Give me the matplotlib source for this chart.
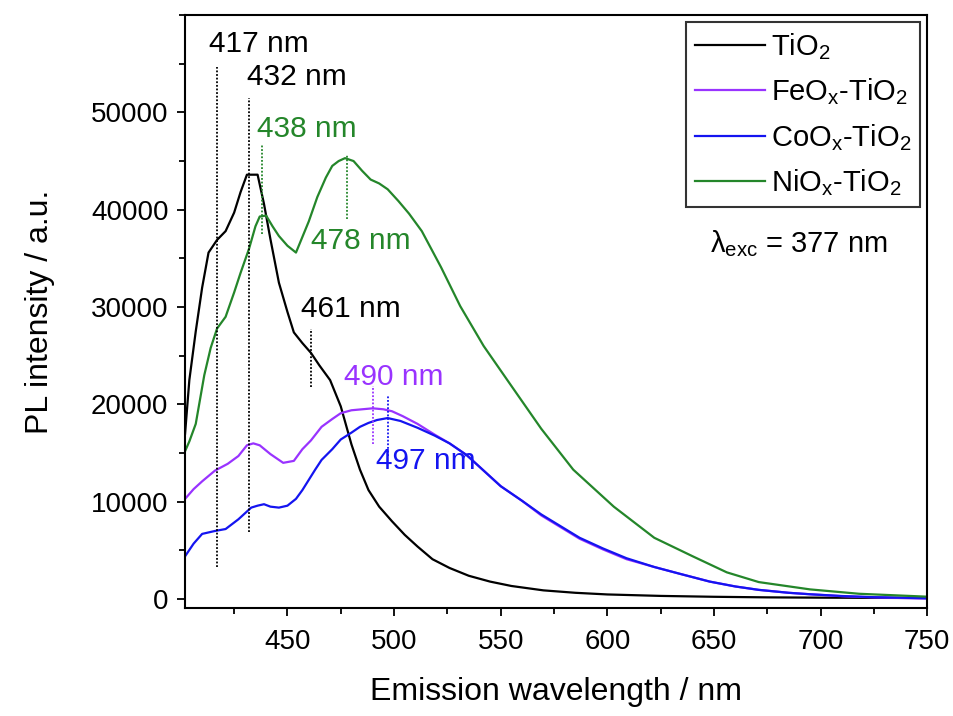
import matplotlib
matplotlib.use("Agg")
import matplotlib.pyplot as plt
from matplotlib.ticker import MultipleLocator

plt.rcParams['font.family'] = ['Liberation Sans', 'DejaVu Sans']
plt.rcParams['mathtext.fontset'] = 'custom'
plt.rcParams['mathtext.rm'] = 'Liberation Sans'

# PL spectra
wl_tio2 = [402, 404, 407, 410, 413, 417, 421, 425, 428, 431, 433, 436, 439, 442, 446, 450, 453, 457,
           461, 465, 470, 475, 480, 484, 488, 493, 499, 505, 511, 518, 526, 535, 545, 555, 570, 585,
           600, 625, 650, 675, 700, 725, 750]
pl_tio2 = [17000, 22500, 27500, 32000, 35600, 36900, 37800, 39700, 41800, 43600, 43600, 43600, 40600,
           37000, 32500, 29500, 27400, 26300, 25300, 24000, 22500, 19800, 15900, 13300, 11200, 9500,
           8000, 6600, 5400, 4100, 3200, 2400, 1800, 1350, 900, 650, 480, 330, 240, 180, 150, 130, 110]

wl_fe = [402, 406, 410, 416, 422, 427, 431, 434, 437, 442, 448, 453, 457, 461, 466, 471, 475, 480, 485,
         490, 495, 499, 504, 511, 519, 526, 534, 542, 550, 560, 569, 578, 587, 598, 609, 622, 634, 648,
         660, 671, 685, 695, 710, 725, 750]
pl_fe = [10300, 11300, 12100, 13200, 13900, 14700, 15800, 16000, 15800, 14900, 14000, 14200, 15400,
         16300, 17700, 18500, 19100, 19400, 19500, 19600, 19500, 19300, 18800, 18000, 16900, 16000,
         14800, 13200, 11600, 10100, 8600, 7400, 6200, 5100, 4100, 3300, 2600, 1800, 1300, 950, 650,
         500, 300, 180, 60]

wl_co = [402, 406, 410, 416, 421, 427, 433, 436, 439, 442, 446, 450, 454, 457, 463, 466, 471, 475, 480,
         484, 488, 492, 497, 503, 511, 519, 526, 534, 542, 550, 560, 569, 578, 587, 598, 609, 622, 634,
         648, 660, 671, 685, 695, 710, 725, 750]
pl_co = [4400, 5700, 6700, 7000, 7200, 8200, 9400, 9600, 9750, 9500, 9400, 9600, 10300, 11200, 13300,
         14300, 15400, 16400, 17100, 17700, 18100, 18400, 18600, 18300, 17600, 16800, 16000, 14800,
         13200, 11600, 10100, 8700, 7500, 6300, 5200, 4200, 3300, 2600, 1800, 1300, 950, 650, 500, 320,
         200, 90]

wl_ni = [402, 404, 407, 411, 414, 417, 421, 425, 428, 432, 435, 437, 440, 443, 446, 450, 454, 457, 460,
         464, 468, 471, 474, 477, 481, 485, 489, 493, 497, 502, 507, 513, 522, 531, 542, 555, 569, 584,
         603, 622, 640, 656, 671, 695, 718, 750]
pl_ni = [15200, 16200, 18000, 23000, 25800, 27800, 29000, 31500, 33500, 36000, 38300, 39300, 39400,
         38300, 37300, 36300, 35600, 37200, 38800, 41300, 43300, 44500, 45000, 45300, 45000, 44000,
         43100, 42700, 42100, 40900, 39600, 37800, 34100, 30100, 26000, 21900, 17500, 13300, 9500,
         6300, 4400, 2750, 1750, 1000, 550, 250]

labels = [r'$\mathregular{TiO_2}$', r'$\mathregular{FeO_x}$-$\mathregular{TiO_2}$',
          r'$\mathregular{CoO_x}$-$\mathregular{TiO_2}$', r'$\mathregular{NiO_x}$-$\mathregular{TiO_2}$']
colors = ['black', '#9933ff', '#1414f0', '#24862a']

# peak markers: (wavelength, y bottom, y top, text, text x, text y, colour index)
peaks = [
    (417, 3300, 54700, '417 nm', 436.5, 57000, 0),
    (432, 6900, 51500, '432 nm', 454.2, 53600, 0),
    (438, 37500, 46700, '438 nm', 458.9, 48300, 3),
    (478, 39000, 45700, '478 nm', 484.6, 36800, 3),
    (461, 21800, 27700, '461 nm', 479.9, 29800, 0),
    (490, 15900, 21900, '490 nm', 500.0, 22800, 1),
    (497, 14700, 20900, '497 nm', 514.9, 14200, 2),
]

fig = plt.figure(figsize=(9.54, 7.16), dpi=100)
ax = fig.add_axes([0.194, 0.151, 0.778, 0.828])

ax.plot(wl_tio2, pl_tio2, color=colors[0], lw=1.6, label=labels[0])
ax.plot(wl_fe, pl_fe, color=colors[1], lw=1.6, label=labels[1])
ax.plot(wl_co, pl_co, color=colors[2], lw=1.6, label=labels[2])
ax.plot(wl_ni, pl_ni, color=colors[3], lw=1.6, label=labels[3])

for w, y0, y1, txt, tx, ty, ci in peaks:
    ax.plot([w, w], [y0, y1], color=colors[ci], lw=1.3, ls=(0, (1, 1)))
    ax.text(tx, ty, txt, color=colors[ci], fontsize=21.5, ha='center', va='center')

ax.text(690, 36500, r'λ$_\mathregular{exc}$ = 377 nm', fontsize=21, ha='center', va='center')

ax.set_xlim(402, 750)
ax.set_ylim(-900, 60000)
ax.xaxis.set_major_locator(MultipleLocator(50))
ax.xaxis.set_minor_locator(MultipleLocator(25))
ax.yaxis.set_major_locator(MultipleLocator(10000))
ax.yaxis.set_minor_locator(MultipleLocator(5000))
ax.set_yticks(range(0, 60000, 10000))
ax.set_xticks(range(450, 751, 50))

ax.tick_params(which='both', direction='out', width=1.3, labelsize=20, top=False, right=False)
ax.tick_params(which='major', length=6)
ax.tick_params(axis='x', which='major', pad=9)
ax.tick_params(axis='y', which='major', pad=6)
ax.tick_params(which='minor', length=4)
for s in ax.spines.values():
    s.set_linewidth(1.5)

ax.set_xlabel('Emission wavelength / nm', fontsize=23, labelpad=16)
ax.set_ylabel('PL intensity / a.u.', fontsize=23, labelpad=26)

leg = ax.legend(loc='upper right', fontsize=21, frameon=True, fancybox=False, handlelength=2.4,
                borderaxespad=0.25, labelspacing=0.5, handletextpad=0.2, borderpad=0.3)
leg.get_frame().set_edgecolor('black')
leg.get_frame().set_linewidth(1.5)

fig.savefig('out.png', dpi=100)
